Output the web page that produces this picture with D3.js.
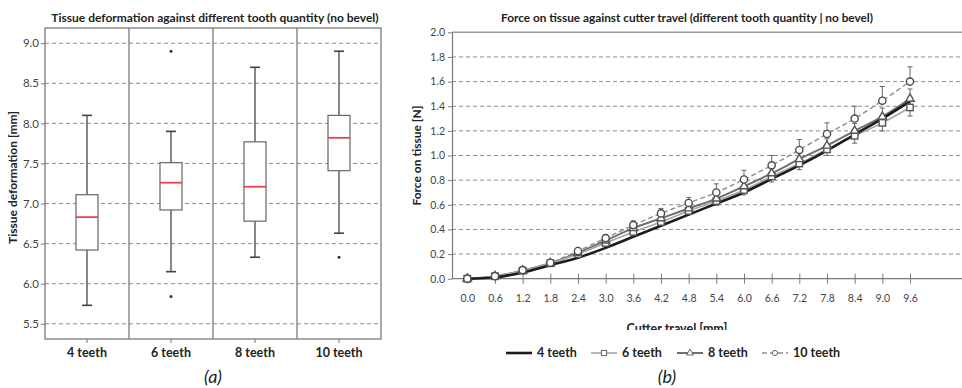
<!DOCTYPE html>
<html>
<head>
<meta charset="utf-8">
<script src="https://cdn.jsdelivr.net/npm/d3@7"></script>
<style>
  body { margin: 0; background: #fff; }
  svg text { font-family: Lato, "Open Sans", sans-serif; }
</style>
</head>
<body>
<div id="drawing_region"></div>
<script>
// ---- panel (a): tissue deformation box plot ----
const teethLabels = ["4 teeth", "6 teeth", "8 teeth", "10 teeth"];
const whiskerLow = [5.73, 6.15, 6.33, 6.63];
const boxQ1 = [6.42, 6.92, 6.78, 7.41];
const boxMedian = [6.83, 7.26, 7.21, 7.82];
const boxQ3 = [7.11, 7.51, 7.77, 8.10];
const whiskerHigh = [8.10, 7.90, 8.70, 8.90];
const boxOutliers = [[], [8.90, 5.84], [], [6.33]];
const deformTicks = [5.5, 6.0, 6.5, 7.0, 7.5, 8.0, 8.5, 9.0];

// ---- panel (b): force against cutter travel ----
const travelLabels = ["0.0", "0.6", "1.2", "1.8", "2.4", "3.0", "3.6", "4.2", "4.8",
                      "5.4", "6.0", "6.6", "7.2", "7.8", "8.4", "9.0", "9.6"];
const force4  = [0, 0.01, 0.05, 0.11, 0.17, 0.25, 0.34, 0.43, 0.52, 0.61, 0.70, 0.81, 0.92, 1.04, 1.17, 1.30, 1.44];
const force6  = [0, 0.02, 0.065, 0.125, 0.20, 0.29, 0.38, 0.46, 0.55, 0.63, 0.72, 0.83, 0.935, 1.05, 1.16, 1.265, 1.39];
const force8  = [0, 0.02, 0.065, 0.125, 0.21, 0.31, 0.41, 0.49, 0.57, 0.65, 0.75, 0.855, 0.97, 1.08, 1.20, 1.315, 1.46];
const force10 = [0, 0.02, 0.07, 0.13, 0.225, 0.33, 0.435, 0.53, 0.615, 0.70, 0.805, 0.92, 1.045, 1.175, 1.30, 1.445, 1.60];
const err6    = [0, 0.005, 0.01, 0.01, 0.015, 0.02, 0.025, 0.03, 0.03, 0.035, 0.04, 0.045, 0.05, 0.05, 0.06, 0.065, 0.07];
const err8    = [0, 0.005, 0.01, 0.01, 0.015, 0.02, 0.025, 0.03, 0.03, 0.035, 0.04, 0.045, 0.05, 0.055, 0.06, 0.07, 0.08];
const err10   = [0, 0.005, 0.01, 0.015, 0.02, 0.025, 0.035, 0.04, 0.045, 0.07, 0.075, 0.08, 0.085, 0.09, 0.10, 0.115, 0.12];
const forceTicks = [0, 0.2, 0.4, 0.6, 0.8, 1.0, 1.2, 1.4, 1.6, 1.8, 2.0];
const seriesNames = ["4 teeth", "6 teeth", "8 teeth", "10 teeth"];

const svg = d3.select("#drawing_region").append("svg")
    .attr("width", 962)
    .attr("height", 388);

const gridColor = "#8c8c8c";
const frameColor = "#7a7a7a";
const boldSize = 12;

// ================= panel (a) =================
const a = { left: 45, right: 381, top: 28, bottom: 339 };

const ax = d3.scaleBand().domain(teethLabels).range([a.left, a.right]).padding(0);
const ay = d3.scaleLinear().domain([5.31, 9.19]).range([a.bottom, a.top]);

const ga = svg.append("g");

// grid
ga.selectAll(".grid-a").data(deformTicks).enter().append("line")
    .attr("x1", a.left).attr("x2", a.right)
    .attr("y1", d => ay(d)).attr("y2", d => ay(d))
    .attr("stroke", gridColor).attr("stroke-width", 1)
    .attr("stroke-dasharray", "4,3");

// y axis
const ayAxis = d3.axisLeft(ay).tickValues(deformTicks).tickFormat(d3.format(".1f")).tickSize(4).tickSizeOuter(0);
ga.append("g").attr("transform", `translate(${a.left},0)`).call(ayAxis)
    .call(g => g.select(".domain").remove())
    .call(g => g.selectAll("line").attr("stroke", frameColor))
    .call(g => g.selectAll("text").attr("fill", "#444").attr("font-size", 11.5)
        .attr("font-family", "Lato, sans-serif").attr("dx", 1));

// x axis
const axAxis = d3.axisBottom(ax).tickSize(4).tickSizeOuter(0);
ga.append("g").attr("transform", `translate(0,${a.bottom})`).call(axAxis)
    .call(g => g.select(".domain").remove())
    .call(g => g.selectAll("line").attr("stroke", frameColor))
    .call(g => g.selectAll("text").attr("fill", "#222").attr("font-size", boldSize + 0.5)
        .attr("font-weight", "bold").attr("font-family", "Lato, sans-serif").attr("dy", "0.85em"));

// frame and dividers
ga.append("rect")
    .attr("x", a.left).attr("y", a.top)
    .attr("width", a.right - a.left).attr("height", a.bottom - a.top)
    .attr("fill", "none").attr("stroke", frameColor).attr("stroke-width", 1.3);
ga.selectAll(".divider").data(teethLabels.slice(1)).enter().append("line")
    .attr("x1", d => ax(d)).attr("x2", d => ax(d))
    .attr("y1", a.top).attr("y2", a.bottom)
    .attr("stroke", frameColor).attr("stroke-width", 1.3);

// boxes
const boxW = 22;
const boxes = ga.selectAll(".box").data(teethLabels).enter().append("g")
    .attr("transform", d => `translate(${ax(d) + ax.bandwidth() / 2},0)`);

boxes.append("line")
    .attr("y1", (d, i) => ay(whiskerHigh[i])).attr("y2", (d, i) => ay(boxQ3[i]))
    .attr("stroke", "#555").attr("stroke-width", 1.4);
boxes.append("line")
    .attr("y1", (d, i) => ay(boxQ1[i])).attr("y2", (d, i) => ay(whiskerLow[i]))
    .attr("stroke", "#555").attr("stroke-width", 1.4);
boxes.append("line")
    .attr("x1", -5).attr("x2", 5)
    .attr("y1", (d, i) => ay(whiskerHigh[i])).attr("y2", (d, i) => ay(whiskerHigh[i]))
    .attr("stroke", "#444").attr("stroke-width", 1.6);
boxes.append("line")
    .attr("x1", -5).attr("x2", 5)
    .attr("y1", (d, i) => ay(whiskerLow[i])).attr("y2", (d, i) => ay(whiskerLow[i]))
    .attr("stroke", "#444").attr("stroke-width", 1.6);
boxes.append("rect")
    .attr("x", -boxW / 2).attr("width", boxW)
    .attr("y", (d, i) => ay(boxQ3[i]))
    .attr("height", (d, i) => ay(boxQ1[i]) - ay(boxQ3[i]))
    .attr("fill", "#fff").attr("stroke", "#666").attr("stroke-width", 1.2);
boxes.append("line")
    .attr("x1", -boxW / 2).attr("x2", boxW / 2)
    .attr("y1", (d, i) => ay(boxMedian[i])).attr("y2", (d, i) => ay(boxMedian[i]))
    .attr("stroke", "#e8424a").attr("stroke-width", 1.8);
boxes.each(function (d, i) {
    d3.select(this).selectAll("circle").data(boxOutliers[i]).enter().append("circle")
        .attr("cx", 0).attr("cy", v => ay(v)).attr("r", 1.5).attr("fill", "#333");
});

// titles
ga.append("text")
    .attr("x", (a.left + a.right) / 2 + 2).attr("y", 22)
    .attr("text-anchor", "middle").attr("font-size", boldSize).attr("font-weight", "bold")
    .attr("fill", "#222")
    .text("Tissue deformation against different tooth quantity (no bevel)");
ga.append("text")
    .attr("transform", `translate(17,${(a.top + a.bottom) / 2 - 6}) rotate(-90)`)
    .attr("text-anchor", "middle").attr("font-size", boldSize).attr("font-weight", "bold")
    .attr("fill", "#222")
    .text("Tissue deformation [mm]");
ga.append("text")
    .attr("x", 213).attr("y", 383)
    .attr("text-anchor", "middle").attr("font-size", 18).attr("font-style", "italic")
    .attr("fill", "#222")
    .text("(a)");

// ================= panel (b) =================
const b = { left: 452, right: 962, top: 32.3, bottom: 278.7 };

const bx = d3.scalePoint().domain(travelLabels).range([467.3, 910]);
const by = d3.scaleLinear().domain([0, 2]).range([b.bottom, b.top]);

const gb = svg.append("g");

gb.selectAll(".grid-b").data(forceTicks.slice(1, -1)).enter().append("line")
    .attr("x1", b.left).attr("x2", b.right)
    .attr("y1", d => by(d)).attr("y2", d => by(d))
    .attr("stroke", gridColor).attr("stroke-width", 1)
    .attr("stroke-dasharray", "4,3");

// top frame line
gb.append("line")
    .attr("x1", b.left).attr("x2", b.right)
    .attr("y1", b.top).attr("y2", b.top)
    .attr("stroke", "#9a9a9a").attr("stroke-width", 1.5);

const byAxis = d3.axisLeft(by).tickValues(forceTicks).tickFormat(d3.format(".1f")).tickSize(4).tickSizeOuter(0);
gb.append("g").attr("transform", `translate(${b.left},0)`).call(byAxis)
    .call(g => g.select(".domain").attr("stroke", frameColor).attr("stroke-width", 1.2))
    .call(g => g.selectAll("line").attr("stroke", frameColor))
    .call(g => g.selectAll("text").attr("fill", "#444").attr("font-size", 10.5)
        .attr("font-family", "Lato, sans-serif"));

const bxAxis = d3.axisBottom(bx).tickSize(5).tickSizeOuter(0);
gb.append("g").attr("transform", `translate(0,${b.bottom})`).call(bxAxis)
    .call(g => g.select(".domain").remove())
    .call(g => g.selectAll(".tick line").attr("y1", -5).attr("stroke", frameColor))
    .call(g => g.selectAll("text").attr("fill", "#444").attr("font-size", 10.5)
        .attr("font-family", "Lato, sans-serif").attr("dy", "1.5em"));
gb.append("line")
    .attr("x1", b.left).attr("x2", b.right)
    .attr("y1", b.bottom).attr("y2", b.bottom)
    .attr("stroke", frameColor).attr("stroke-width", 1.3);

const series = [
    { name: seriesNames[0], values: force4, err: null, dir: 0, color: "#1c1c1c", width: 2.6, dash: null, marker: null },
    { name: seriesNames[1], values: force6, err: err6, dir: -1, color: "#a6a6a6", width: 1.6, dash: null, marker: "square" },
    { name: seriesNames[2], values: force8, err: err8, dir: 1, color: "#707070", width: 2, dash: null, marker: "triangle" },
    { name: seriesNames[3], values: force10, err: err10, dir: 1, color: "#8e8e8e", width: 1.4, dash: "5,3", marker: "circle" }
];

const line = d3.line()
    .x((d, i) => bx(travelLabels[i]))
    .y(d => by(d))
    .curve(d3.curveMonotoneX);

function drawMarker(sel, type, size) {
    if (type === "square") {
        sel.append("rect").attr("x", -size).attr("y", -size)
            .attr("width", size * 2).attr("height", size * 2);
    } else if (type === "triangle") {
        sel.append("path").attr("d", d3.symbol(d3.symbolTriangle, size * size * 3)());
    } else if (type === "circle") {
        sel.append("circle").attr("r", size);
    }
}

// error bars
series.filter(s => s.err).forEach(s => {
    const eg = gb.append("g").attr("stroke", "#666").attr("stroke-width", 1);
    s.values.forEach((v, i) => {
        if (i < 3) return;
        const xx = bx(travelLabels[i]);
        const end = v + s.dir * s.err[i];
        const both = s.dir === 1 && s.name === "8 teeth";
        eg.append("line").attr("x1", xx).attr("x2", xx)
            .attr("y1", by(both ? v - s.err[i] : v)).attr("y2", by(end));
        eg.append("line").attr("x1", xx - 2.5).attr("x2", xx + 2.5)
            .attr("y1", by(end)).attr("y2", by(end));
        if (both) {
            eg.append("line").attr("x1", xx - 2.5).attr("x2", xx + 2.5)
                .attr("y1", by(v - s.err[i])).attr("y2", by(v - s.err[i]));
        }
    });
});

// lines
series.slice().reverse().forEach(s => {
    gb.append("path").datum(s.values)
        .attr("d", line)
        .attr("fill", "none")
        .attr("stroke", s.color)
        .attr("stroke-width", s.width)
        .attr("stroke-dasharray", s.dash);
});

// markers
series.filter(s => s.marker).forEach(s => {
    const mg = gb.append("g").attr("fill", "#fff").attr("stroke", s.marker === "circle" ? "#4a4a4a" : "#555")
        .attr("stroke-width", 1.4);
    s.values.forEach((v, i) => {
        const m = mg.append("g").attr("transform", `translate(${bx(travelLabels[i])},${by(v)})`);
        drawMarker(m, s.marker, s.marker === "circle" ? 3.6 : 3.2);
    });
});

// titles
gb.append("text")
    .attr("x", 687).attr("y", 22)
    .attr("text-anchor", "middle").attr("font-size", boldSize - 0.2).attr("font-weight", "bold")
    .attr("fill", "#222")
    .text("Force on tissue against cutter travel (different tooth quantity | no bevel)");
gb.append("text")
    .attr("transform", `translate(421,${(b.top + b.bottom) / 2}) rotate(-90)`)
    .attr("text-anchor", "middle").attr("font-size", boldSize).attr("font-weight", "bold")
    .attr("fill", "#222")
    .text("Force on tissue [N]");

// x axis title, cut at the bottom like the source
svg.append("clipPath").attr("id", "cut")
    .append("rect").attr("x", 400).attr("y", 300).attr("width", 562).attr("height", 30);
gb.append("text")
    .attr("x", 677).attr("y", 333)
    .attr("clip-path", "url(#cut)")
    .attr("text-anchor", "middle").attr("font-size", boldSize + 0.5).attr("font-weight", "bold")
    .attr("fill", "#222")
    .text("Cutter travel [mm]");

// legend
const legendX = [506, 591, 677, 762];
const legend = gb.selectAll(".legend").data(series).enter().append("g")
    .attr("transform", (d, i) => `translate(${legendX[i]},353)`);
legend.append("line")
    .attr("x1", 0).attr("x2", 26)
    .attr("stroke", d => d.color)
    .attr("stroke-width", d => d.width)
    .attr("stroke-dasharray", d => d.dash);
legend.each(function (d) {
    if (!d.marker) return;
    const m = d3.select(this).append("g").attr("transform", "translate(13,0)")
        .attr("fill", "#fff").attr("stroke", "#666").attr("stroke-width", 1);
    drawMarker(m, d.marker, 2.6);
});
legend.append("text")
    .attr("x", 31).attr("dy", "0.35em")
    .attr("font-size", boldSize + 0.5).attr("font-weight", "bold").attr("fill", "#222")
    .text(d => d.name);

gb.append("text")
    .attr("x", 667).attr("y", 383)
    .attr("text-anchor", "middle").attr("font-size", 18).attr("font-style", "italic")
    .attr("fill", "#222")
    .text("(b)");
</script>
</body>
</html>
